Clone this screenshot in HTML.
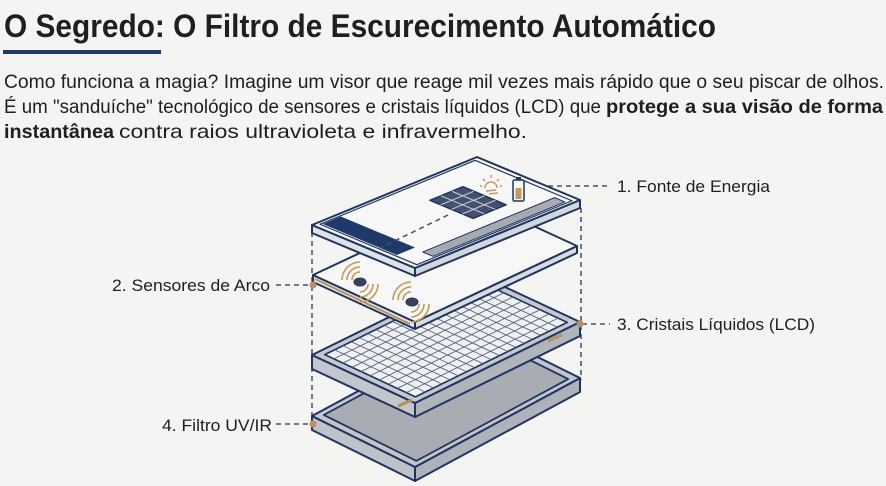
<!DOCTYPE html>
<html><head><meta charset="utf-8"><style>
html,body{margin:0;padding:0;background:#f4f4f3;}
svg{display:block;}
text{font-family:"Liberation Sans",sans-serif;fill:#1f1f1f;}
</style></head><body>
<svg width="886" height="486" viewBox="0 0 886 486" xmlns="http://www.w3.org/2000/svg">
<rect width="886" height="486" fill="#f4f4f3"/>
<text x="4" y="37" font-size="32" font-weight="bold" textLength="712" lengthAdjust="spacingAndGlyphs" fill="#222">O Segredo: O Filtro de Escurecimento Automático</text>
<rect x="3" y="50" width="158" height="4" fill="#1f3a68"/>
<text x="4" y="88" font-size="19" textLength="880" lengthAdjust="spacingAndGlyphs">Como funciona a magia? Imagine um visor que reage mil vezes mais rápido que o seu piscar de olhos.</text>
<text x="4" y="113" font-size="19" textLength="597" lengthAdjust="spacingAndGlyphs">É um "sanduíche" tecnológico de sensores e cristais líquidos (LCD) que</text>
<text x="606" y="113" font-size="19" font-weight="bold" textLength="277" lengthAdjust="spacingAndGlyphs">protege a sua visão de forma</text>
<text x="4" y="138" font-size="19" font-weight="bold" textLength="110" lengthAdjust="spacingAndGlyphs">instantânea</text>
<text x="119" y="138" font-size="19.5" textLength="408" lengthAdjust="spacingAndGlyphs">contra raios ultravioleta e infravermelho.</text>

<g stroke="#1f3560" stroke-width="1.3" stroke-dasharray="5,4" fill="none">
<line x1="312" y1="232" x2="312" y2="418"/>
<line x1="415" y1="276" x2="415" y2="470"/>
<line x1="581" y1="208" x2="581" y2="380"/>
<line x1="530" y1="186" x2="610" y2="186"/>
<line x1="276" y1="285" x2="312" y2="285"/>
<line x1="582" y1="324" x2="610" y2="324"/>
<line x1="276" y1="424" x2="312" y2="424"/>
</g>

<!-- Layer 4 -->
<g stroke="#1f3560" stroke-width="2" stroke-linejoin="round">
<polygon points="312,416 415,467 415,481 312,430" fill="#bfc2c9"/>
<polygon points="415,467 580,378 580,392 415,481" fill="#aeb2ba"/>
<polygon points="312,416 415,467 580,378 477,327" fill="#c3c6cc"/>
<g transform="matrix(103,51,165,-89,312,416)">
<rect x="0.05" y="0.04" width="0.9" height="0.92" fill="#a9acb3" stroke="#1f3560" stroke-width="1.8" vector-effect="non-scaling-stroke"/>
</g>
</g>
<circle cx="313" cy="424" r="3.5" fill="#b8905a"/>

<!-- Layer 3 LCD -->
<g stroke="#1f3560" stroke-width="2" stroke-linejoin="round">
<polygon points="312,355 415,403 415,417 312,369" fill="#c3c6cc"/>
<polygon points="415,403 580,322 580,336 415,417" fill="#b0b4bb"/>
<polygon points="312,355 415,403 580,322 477,274" fill="#c5c8ce"/>
<g transform="matrix(103,48,165,-81,312,355)">
<rect x="0.06" y="0.04" width="0.88" height="0.92" fill="#eef0f2" stroke="#1f3560" stroke-width="1.6" vector-effect="non-scaling-stroke"/>
<path d="M0.06 0.1H0.94M0.06 0.15H0.94M0.06 0.2H0.94M0.06 0.25H0.94M0.06 0.3H0.94M0.06 0.35H0.94M0.06 0.4H0.94M0.06 0.45H0.94M0.06 0.5H0.94M0.06 0.55H0.94M0.06 0.6H0.94M0.06 0.65H0.94M0.06 0.7H0.94M0.06 0.75H0.94M0.06 0.8H0.94M0.06 0.85H0.94M0.06 0.9H0.94M0.148 0.04V0.96M0.236 0.04V0.96M0.324 0.04V0.96M0.412 0.04V0.96M0.5 0.04V0.96M0.588 0.04V0.96M0.676 0.04V0.96M0.764 0.04V0.96M0.852 0.04V0.96" fill="none" stroke="#5b6478" stroke-width="0.9" vector-effect="non-scaling-stroke"/>
</g>
</g>
<line x1="398" y1="406" x2="412" y2="400" stroke="#b8905a" stroke-width="3"/>
<line x1="548" y1="341" x2="562" y2="335" stroke="#b8905a" stroke-width="3"/>
<circle cx="580" cy="324" r="3.5" fill="#b8905a"/>

<!-- Layer 2 sensors -->
<g stroke="#1f3560" stroke-width="2" stroke-linejoin="round">
<polygon points="313,275 415,322 415,329 313,282" fill="#e4e5e8"/>
<polygon points="415,322 577,246 577,253 415,329" fill="#d9dbdf"/>
<polygon points="313,275 415,322 577,246 475,199" fill="#f7f7f7"/>
</g>
<line x1="315" y1="279" x2="410" y2="324" stroke="#b8905a" stroke-width="2"/>
<circle cx="313" cy="285" r="3.5" fill="#b8905a"/>
<g fill="none" stroke="#c49a55" stroke-width="1.6">
<path d="M352 280a8 8 0 0 1 8 -8M347 280a13 13 0 0 1 13 -13M342 280a18 18 0 0 1 18 -18"/>
<path d="M368 284a8 8 0 0 1 -8 8M373 284a13 13 0 0 1 -13 13M378 284a18 18 0 0 1 -18 18"/>
<path d="M403 300a8 8 0 0 1 8 -8M398 300a13 13 0 0 1 13 -13M393 300a18 18 0 0 1 18 -18"/>
<path d="M419 304a8 8 0 0 1 -8 8M424 304a13 13 0 0 1 -13 13M429 304a18 18 0 0 1 -18 18"/>
</g>
<ellipse cx="360" cy="282" rx="6" ry="4" fill="#3a4256" stroke="#1f3560"/>
<ellipse cx="412" cy="302" rx="6" ry="4" fill="#3a4256" stroke="#1f3560"/>

<!-- Layer 1 energy -->
<g stroke="#1f3560" stroke-width="2" stroke-linejoin="round">
<polygon points="312,225 415,268 415,276 312,233" fill="#dfe1e5"/>
<polygon points="415,268 580,200 580,208 415,276" fill="#d3d6db"/>
<polygon points="312,225 415,268 580,200 477,157" fill="#f7f7f7"/>
<g transform="matrix(103,43,165,-68,312,225)">
<rect x="0.03" y="0.03" width="0.94" height="0.94" fill="none" stroke="#1f3560" stroke-width="1.2" vector-effect="non-scaling-stroke"/>
<rect x="0.04" y="0.04" width="0.72" height="0.11" fill="#1f3a68" stroke="none"/>
<rect x="0.85" y="0.14" width="0.1" height="0.8" fill="#a7aab0" stroke="#1f3560" stroke-width="1" vector-effect="non-scaling-stroke"/>
<rect x="0.28" y="0.54" width="0.42" height="0.2" fill="#44516e" stroke="#1f3560" stroke-width="1.5" vector-effect="non-scaling-stroke"/>
<path d="M0.385 0.54V0.74M0.49 0.54V0.74M0.595 0.54V0.74M0.28 0.6067H0.7M0.28 0.6733H0.7" stroke="#c9cfdb" stroke-width="1" fill="none" vector-effect="non-scaling-stroke"/>
</g>
</g>
<line x1="448" y1="215" x2="380" y2="248" stroke="#4a4f5c" stroke-width="1.5" stroke-dasharray="5,4"/>
<g stroke="#c49a55" stroke-width="1.4" fill="none">
<path d="M485 188a6 6 0 0 1 12 0"/>
<path d="M491 175v3M483 179l2 2M499 179l-2 2M480 186h2M500 186h2M486 191l10 -1M489 194l9 -1"/>
</g>
<rect x="513" y="180" width="11" height="21" rx="1.5" fill="#f7f7f7" stroke="#1f3560" stroke-width="1.5"/>
<rect x="516" y="177" width="5" height="3" fill="#1f3560"/>
<rect x="515.5" y="188" width="6" height="11" fill="#c49a55"/>

<text x="617" y="192" font-size="17" textLength="153" lengthAdjust="spacingAndGlyphs">1. Fonte de Energia</text>
<text x="112" y="291" font-size="17" textLength="158" lengthAdjust="spacingAndGlyphs">2. Sensores de Arco</text>
<text x="617" y="330" font-size="17" textLength="198" lengthAdjust="spacingAndGlyphs">3. Cristais Líquidos (LCD)</text>
<text x="162" y="431" font-size="17" textLength="110" lengthAdjust="spacingAndGlyphs">4. Filtro UV/IR</text>
</svg>
</body></html>
